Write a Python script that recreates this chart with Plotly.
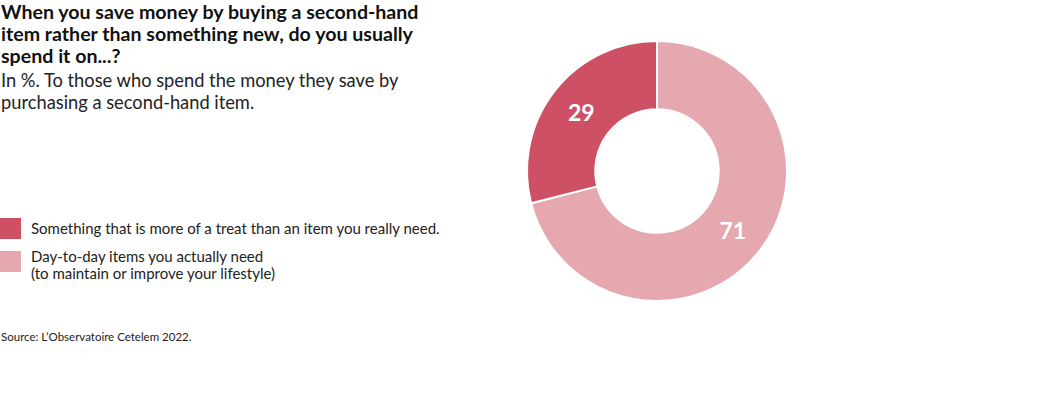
import plotly.graph_objects as go

labels = ["Something that is more of a treat than an item you really need.",
          "Day-to-day items you actually need<br>(to maintain or improve your lifestyle)"]
values = [29, 71]
colors = ["#CD5064", "#E5A8AF"]

title = "When you save money by buying a second-hand<br>item rather than something new, do you usually<br>spend it on...?"
subtitle = "In %. To those who spend the money they save by<br>purchasing a second-hand item."
source = "Source: L’Observatoire Cetelem 2022."

W, H = 1052, 394
fig = go.Figure()
fig.add_trace(go.Pie(
    labels=labels[::-1], values=values[::-1], sort=False, direction="clockwise", rotation=0,
    hole=0.475,
    marker=dict(colors=colors[::-1], line=dict(color="white", width=2)),
    texttemplate="<b>%{value}</b>", textposition="inside", insidetextorientation="horizontal",
    textfont=dict(family="Lato", size=23, color="white"),
    domain=dict(x=[527 / W, 787 / W], y=[1 - 301 / H, 1 - 41 / H]),
    showlegend=False, hoverinfo="label+value",
))


def lines_ann(text, x_px, y_centers, size, color, bold=False):
    out = []
    for line, yc in zip(text.split("<br>"), y_centers):
        out.append(dict(text=("<b>%s</b>" % line) if bold else line, x=x_px / W, y=1 - yc / H,
                        xanchor="left", yanchor="middle", align="left", borderpad=0,
                        font=dict(family="Lato", size=size, color=color), showarrow=False))
    return out


ann = []
ann += lines_ann(title, 0, [11.5, 33.5, 55.5], 19.6, "#111111", bold=True)
ann += lines_ann(subtitle, 0, [80, 102], 18.3, "#222222")
ann += lines_ann(source, 0, [336], 11.5, "#222222")

shapes = []
tops = [218, 251]
centers = [[228], [256, 273]]
for i, (lab, col) in enumerate(zip(labels, colors)):
    t = tops[i]
    shapes.append(dict(type="rect", xref="paper", yref="paper", x0=0, x1=21 / W,
                       y0=1 - (t + 21) / H, y1=1 - t / H, fillcolor=col, line=dict(width=0)))
    ann += lines_ann(lab, 30, centers[i], 15, "#222222")

fig.update_layout(
    width=W, height=H, margin=dict(l=0, r=0, t=0, b=0),
    paper_bgcolor="white", plot_bgcolor="white",
    annotations=[dict(a, xref="paper", yref="paper") for a in ann],
    shapes=shapes,
)
fig.write_html("out.html", config={"displayModeBar": False},
               post_script="document.body.style.margin='0px';")
